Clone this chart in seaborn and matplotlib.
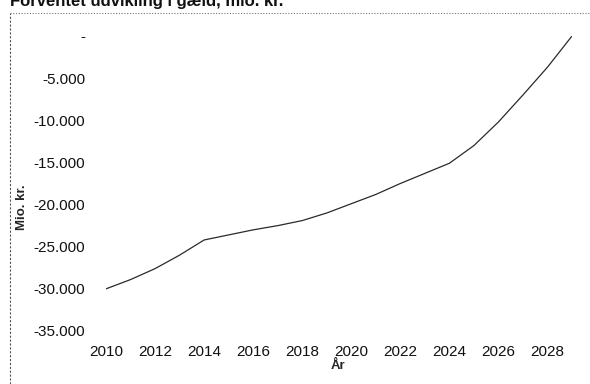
import pandas as pd
import matplotlib
matplotlib.use("Agg")
import matplotlib.pyplot as plt
from matplotlib.ticker import FuncFormatter, MultipleLocator
from matplotlib.lines import Line2D
import seaborn as sns

# Values (mio. kr.)
years = list(range(2010, 2030))
debt = [-30000, -28900, -27600, -26000, -24200, -23600, -23000, -22500,
        -21900, -21000, -19900, -18800, -17500, -16300, -15100, -13000,
        -10200, -7000, -3700, 0]
title = "Forventet udvikling i gæld, mio. kr."

df = pd.DataFrame({"År": years, "Mio. kr.": debt})

sns.set_style("white")
plt.rcParams["font.family"] = ["Liberation Sans", "DejaVu Sans"]
plt.rcParams["ytick.major.pad"] = 15
plt.rcParams["xtick.major.pad"] = 10

W, H = 590, 384
left, right, top, bottom = 106, 572, 36, 331

fig = plt.figure(figsize=(W / 100, H / 100), dpi=100)
ax = fig.add_axes([left / W, 1 - bottom / H, (right - left) / W, (bottom - top) / H])

sns.lineplot(data=df, x="År", y="Mio. kr.", ax=ax, color="#2a2a2a", linewidth=0.9)

ax.set_xlim(2010, 2029)
ax.set_ylim(-35000, 0)
ax.set_xticks(range(2010, 2029, 2))
ax.yaxis.set_major_locator(MultipleLocator(5000))


def dk_fmt(v, pos):
    if abs(v) < 1e-9:
        return "-"
    return f"{v:,.0f}".replace(",", ".")


ax.yaxis.set_major_formatter(FuncFormatter(dk_fmt))
ax.tick_params(axis="both", length=0, labelsize=11, colors="#111111")
ax.tick_params(axis="y", pad=15)
ax.tick_params(axis="x", pad=10)
for s in ax.spines.values():
    s.set_visible(False)

ax.set_xlabel("År", fontsize=9.5, fontweight="bold")
ax.set_ylabel("Mio. kr.", fontsize=9.5, fontweight="bold")
ax.xaxis.set_label_coords((338 - left) / (right - left), -(366 - bottom) / (bottom - top))
ax.yaxis.set_label_coords(-(left - 22) / (right - left), (bottom - 207) / (bottom - top))
ax.xaxis.label.set_va("center")
ax.yaxis.label.set_va("center")

# dotted chart-area border (left and top visible)
fig.add_artist(Line2D([10 / W, 1.0], [1 - 13 / H, 1 - 13 / H], transform=fig.transFigure,
                      color="#777777", linestyle=(0, (1, 1.5)), linewidth=0.8))
fig.add_artist(Line2D([10 / W, 10 / W], [0, 1 - 13 / H], transform=fig.transFigure,
                      color="#555555", linestyle=(0, (2, 1.5)), linewidth=0.8))

# title, clipped at the top edge as in the scan
fig.text(10 / W, 1 - 6 / H, title, fontsize=12, fontweight="bold",
         va="baseline", ha="left", color="#111111")

fig.savefig("out.png", dpi=100)
